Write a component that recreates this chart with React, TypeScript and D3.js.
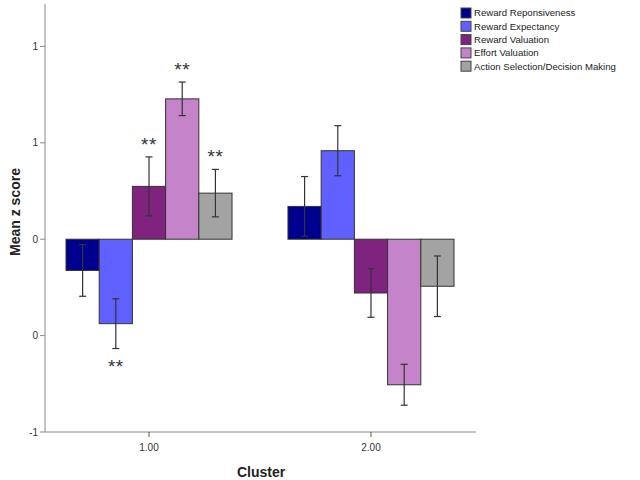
import React from "react";
import * as d3 from "d3";

const clusters = ["1.00", "2.00"];
const seriesNames = [
  "Reward Reponsiveness",
  "Reward Expectancy",
  "Reward Valuation",
  "Effort Valuation",
  "Action Selection/Decision Making",
];
const seriesColors = ["#00008f", "#6060ff", "#80237f", "#c583c9", "#a3a3a3"];
const cluster1Means = [-0.162, -0.438, 0.274, 0.728, 0.239];
const cluster1Errors = [0.134, 0.129, 0.153, 0.087, 0.123];
const cluster2Means = [0.17, 0.459, -0.279, -0.755, -0.244];
const cluster2Errors = [0.155, 0.13, 0.126, 0.106, 0.157];
const cluster1Stars = ["", "**", "**", "**", "**"];
const cluster2Stars = ["", "", "", "", ""];
const yTickValues = [1.0, 0.5, 0.0, -0.5, -1.0];
const yTickLabels = ["1", "1", "0", "0", "-1"];

const means = [cluster1Means, cluster2Means];
const errors = [cluster1Errors, cluster2Errors];
const stars = [cluster1Stars, cluster2Stars];

export default function App() {
  const W = 640, H = 480;
  const axisX = 45, axisTop = 4, axisBottom = 432, axisRight = 476;
  const y = d3.scaleLinear().domain([-1.0, 1.22]).range([axisBottom, axisTop]);
  const x0 = d3.scaleBand().domain(clusters).range([66, 454]).paddingInner(0.252).paddingOuter(0);
  const x1 = d3.scaleBand().domain(seriesNames).range([0, x0.bandwidth()]);
  const axisColor = "#8a8a8a";
  const font = "Arial, 'Liberation Sans', sans-serif";

  return (
    <svg width={W} height={H} style={{ position: "absolute", left: 0, top: 0, background: "#fff" }} fontFamily={font}>
      <rect x={0} y={0} width={W} height={H} fill="#fff" />
      {/* bars */}
      {clusters.map((c, ci) =>
        seriesNames.map((s, si) => {
          const v = means[ci][si];
          const bx = (x0(c) as number) + (x1(s) as number);
          const bw = x1.bandwidth();
          const yTop = y(Math.max(0, v));
          const yBot = y(Math.min(0, v));
          return (
            <rect key={`b${ci}-${si}`} x={bx} y={yTop} width={bw} height={yBot - yTop}
              fill={seriesColors[si]} stroke="#333" strokeWidth={1} />
          );
        })
      )}
      {/* error bars */}
      {clusters.map((c, ci) =>
        seriesNames.map((s, si) => {
          const v = means[ci][si];
          const e = errors[ci][si];
          const cx = (x0(c) as number) + (x1(s) as number) + x1.bandwidth() / 2;
          const hi = y(v + e), lo = y(v - e);
          const st = stars[ci][si];
          const starY = v >= 0 ? hi - 11 : lo + 19;
          return (
            <g key={`e${ci}-${si}`} stroke="#333" strokeWidth={1.2}>
              <line x1={cx} x2={cx} y1={hi} y2={lo} />
              <line x1={cx - 3.5} x2={cx + 3.5} y1={hi} y2={hi} />
              <line x1={cx - 3.5} x2={cx + 3.5} y1={lo} y2={lo} />
              {st && (
                <text x={cx} y={starY} textAnchor="middle" fontSize={19} letterSpacing={0.5} fill="#333" stroke="none" dominantBaseline="middle">{st}</text>
              )}
            </g>
          );
        })
      )}
      {/* y axis */}
      <line x1={axisX} x2={axisX} y1={axisTop} y2={axisBottom} stroke={axisColor} strokeWidth={1} />
      {yTickValues.map((t, i) => (
        <g key={`yt${i}`}>
          <line x1={axisX - 5} x2={axisX} y1={y(t)} y2={y(t)} stroke={axisColor} />
          <text x={axisX - 7} y={y(t)} dy="0.35em" textAnchor="end" fontSize={10} fill="#333">{yTickLabels[i]}</text>
        </g>
      ))}
      {/* x axis */}
      <line x1={axisX} x2={axisRight} y1={axisBottom} y2={axisBottom} stroke={axisColor} strokeWidth={1} />
      {clusters.map((c) => {
        const cx = (x0(c) as number) + x0.bandwidth() / 2;
        return (
          <g key={`xt${c}`}>
            <line x1={cx} x2={cx} y1={axisBottom} y2={axisBottom + 5} stroke="#555" />
            <text x={cx} y={axisBottom + 15} dy="0.35em" textAnchor="middle" fontSize={10} fill="#333">{c}</text>
          </g>
        );
      })}
      <text x={261} y={472} dy="0.35em" textAnchor="middle" fontSize={14} fontWeight="bold" fill="#222">Cluster</text>
      <text transform="translate(15,212) rotate(-90)" dy="0.35em" textAnchor="middle" fontSize={14} fontWeight="bold" fill="#222">Mean z score</text>
      {/* legend */}
      {seriesNames.map((s, i) => {
        const ly = 13 + i * 13.3;
        return (
          <g key={`lg${i}`}>
            <rect x={461} y={ly - 5} width={10} height={10} fill={seriesColors[i]} stroke="#444" strokeWidth={1} />
            <text x={474} y={ly} dy="0.35em" fontSize={9.6} fill="#222">{s}</text>
          </g>
        );
      })}
    </svg>
  );
}
